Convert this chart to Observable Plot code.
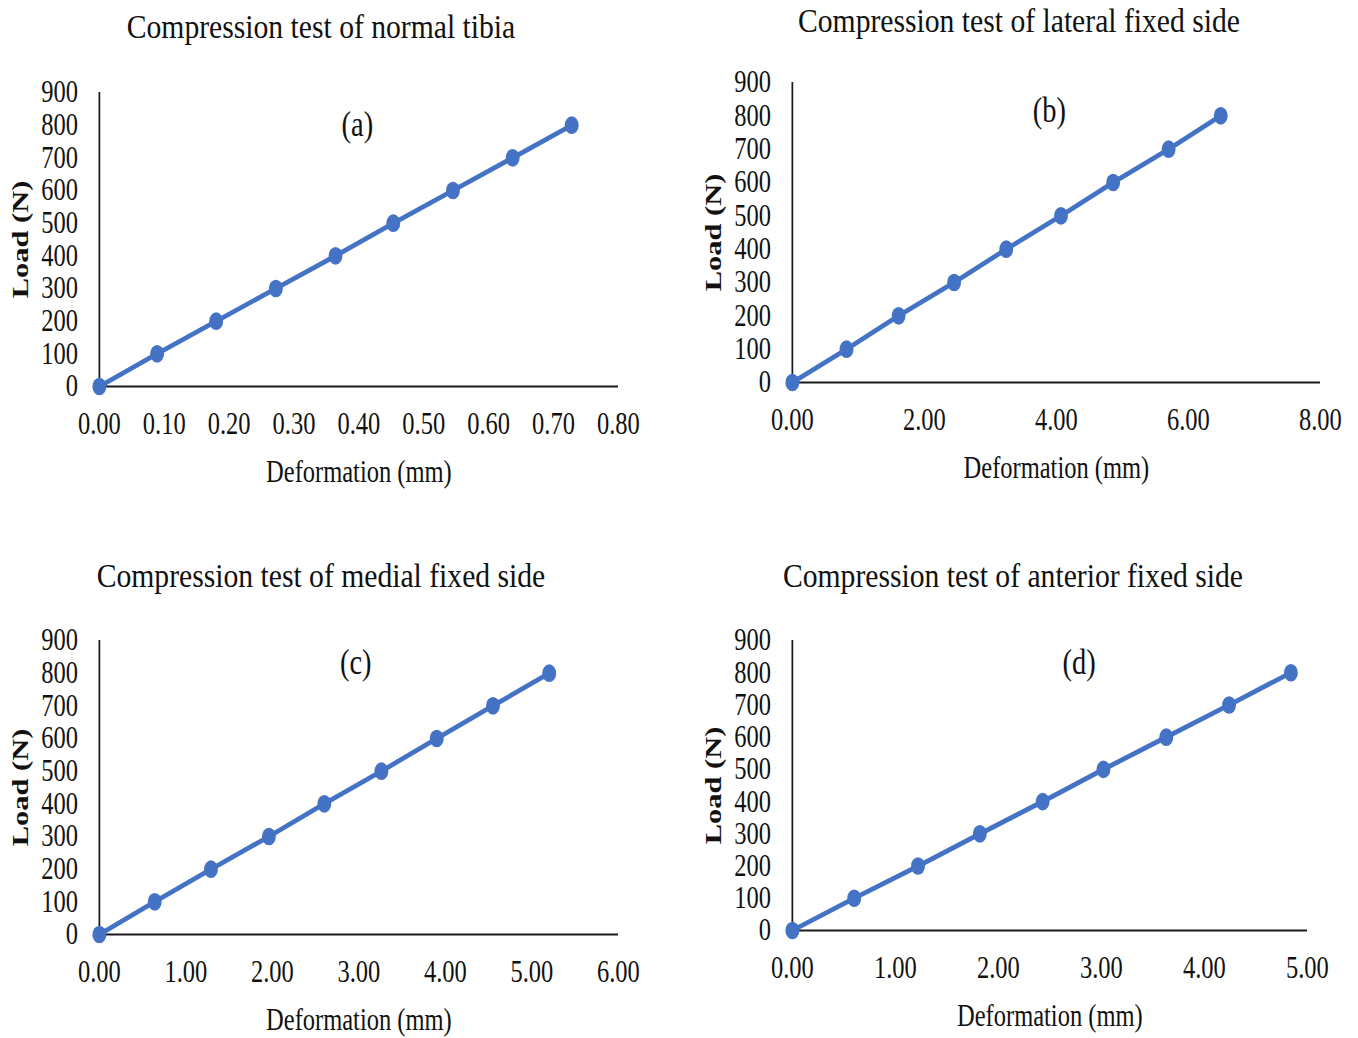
<!DOCTYPE html>
<html>
<head>
<meta charset="utf-8">
<script src="https://cdn.jsdelivr.net/npm/d3@7"></script>
<script src="https://cdn.jsdelivr.net/npm/@observablehq/plot@0.6"></script>
<style>
  html, body { margin: 0; padding: 0; background: #fff; }
  #page { position: relative; width: 1358px; height: 1038px; overflow: hidden; background: #fff; }
  #charts { position: absolute; left: 0; top: 0; width: 1719px; height: 1038px; transform: scaleX(0.79); transform-origin: 0 0; }
  #charts svg { position: absolute; }
  .title { position: absolute; font-family: "Liberation Serif", serif; font-size: 33px; line-height: 33px; white-space: nowrap; color: #111; transform: translateX(-50%) scaleX(0.898); transform-origin: 50% 0; }
</style>
</head>
<body>
<div id="page">
  <div id="charts"></div>
</div>
<script>
// ---- data ----
const loads = [0, 100, 200, 300, 400, 500, 600, 700, 800];
const defA = [0, 0.089, 0.180, 0.272, 0.364, 0.453, 0.545, 0.637, 0.728];
const defB = [0, 0.82, 1.61, 2.45, 3.24, 4.07, 4.86, 5.70, 6.49];
const defC = [0, 0.64, 1.29, 1.96, 2.60, 3.26, 3.90, 4.55, 5.20];
const defD = [0, 0.60, 1.22, 1.82, 2.43, 3.02, 3.63, 4.24, 4.84];

const yTicks = [0, 100, 200, 300, 400, 500, 600, 700, 800, 900];
const xTicksA = [0, 0.1, 0.2, 0.3, 0.4, 0.5, 0.6, 0.7, 0.8];
const xTicksB = [0, 2, 4, 6, 8];
const xTicksC = [0, 1, 2, 3, 4, 5, 6];
const xTicksD = [0, 1, 2, 3, 4, 5];

const titles = [
  "Compression test of normal tibia",
  "Compression test of lateral fixed side",
  "Compression test of medial fixed side",
  "Compression test of anterior fixed side"
];
const panelTags = ["(a)", "(b)", "(c)", "(d)"];
const xLabel = "Deformation (mm)";
const yLabel = "Load (N)";

// ---- layout (pre-scale coordinates inside #charts) ----
const blue = "#4472C4";
const axisColor = "#1a1a1a";
const panels = [
  {def: defA, ticks: xTicksA, domain: [0, 0.8], left: 0, top: 60, width: 860, height: 450,
   mL: 125.3, mR: 77.7, mT: 32, mB: 124, tagDx: -2, tagDy: 43,
   title: {cx: 321, top: 11}},
  {def: defB, ticks: xTicksB, domain: [0, 8], left: 860, top: 50, width: 859, height: 460,
   mL: 142.5, mR: 48.1, mT: 32, mB: 128, tagDx: -9, tagDy: 39,
   title: {cx: 1018.5, top: 4.5}},
  {def: defC, ticks: xTicksC, domain: [0, 6], left: 0, top: 608, width: 860, height: 430,
   mL: 125.3, mR: 77.7, mT: 32, mB: 104, tagDx: -4, tagDy: 33,
   title: {cx: 320.5, top: 560}},
  {def: defD, ticks: xTicksD, domain: [0, 5], left: 860, top: 608, width: 859, height: 430,
   mL: 142.5, mR: 64.6, mT: 32, mB: 108, tagDx: 37, tagDy: 33,
   title: {cx: 1012.5, top: 560}}
];

const charts = document.getElementById("charts");
const page = document.getElementById("page");

panels.forEach((p, i) => {
  const data = loads.map((l, k) => ({x: p.def[k], y: l}));
  const svg = Plot.plot({
    width: p.width,
    height: p.height,
    marginLeft: p.mL,
    marginRight: p.mR,
    marginTop: p.mT,
    marginBottom: p.mB,
    style: {fontFamily: "Liberation Serif, serif", fontSize: "31px", color: "#111", background: "transparent", overflow: "visible"},
    x: {domain: p.domain},
    y: {domain: [0, 900]},
    marks: [
      Plot.axisX({ticks: p.ticks, tickSize: 0, tickPadding: 25.5, tickFormat: d3.format(".2f"), label: null}),
      Plot.axisY({ticks: yTicks, tickSize: 0, tickPadding: 27, tickFormat: d3.format("d"), label: null}),
      Plot.ruleX([0], {stroke: axisColor, strokeWidth: 2.2}),
      Plot.ruleY([0], {stroke: axisColor, strokeWidth: 2}),
      Plot.line(data, {x: "x", y: "y", stroke: blue, strokeWidth: 5}),
      Plot.dot(data, {x: "x", y: "y", r: 8.8, fill: blue, stroke: "none"}),
      Plot.text([xLabel], {text: d => d, frameAnchor: "bottom", dy: 95, lineAnchor: "bottom", textAnchor: "middle", fontSize: 31, fill: "#111"}),
      Plot.text([yLabel], {text: d => d, frameAnchor: "left", dx: -100, rotate: -90, textAnchor: "middle", lineAnchor: "middle", fontSize: 30.5, fontWeight: "bold", fill: "#111"}),
      Plot.text([panelTags[i]], {text: d => d, frameAnchor: "top", dx: p.tagDx, dy: p.tagDy, lineAnchor: "bottom", textAnchor: "middle", fontSize: 36, fill: "#111"})
    ]
  });
  svg.style.left = p.left + "px";
  svg.style.top = p.top + "px";
  charts.appendChild(svg);

  const t = document.createElement("div");
  t.className = "title";
  t.textContent = titles[i];
  t.style.left = p.title.cx + "px";
  t.style.top = p.title.top + "px";
  page.appendChild(t);
});
</script>
</body>
</html>
